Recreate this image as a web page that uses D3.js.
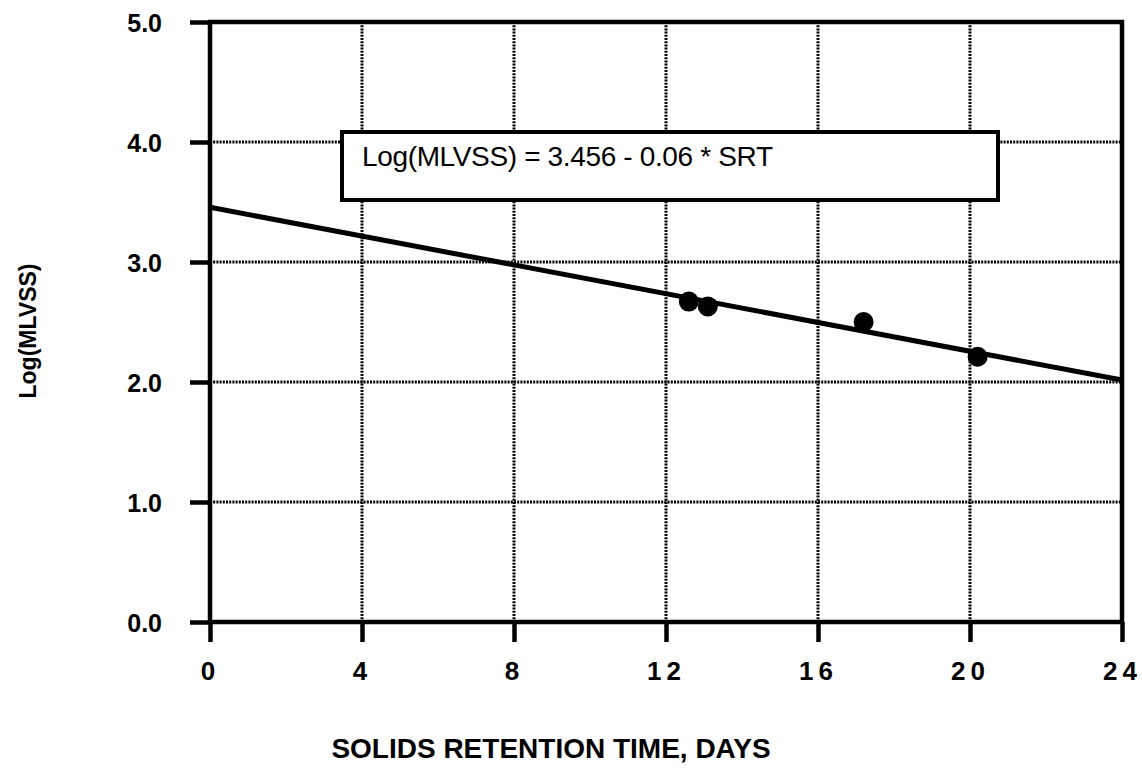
<!DOCTYPE html>
<html>
<head>
<meta charset="utf-8">
<script src="https://cdn.jsdelivr.net/npm/d3@7"></script>
<style>
    body { margin: 0; background: #fff; }
    svg { display: block; font-family: "Liberation Sans", Arial, sans-serif; }
    .tick-label { font-weight: bold; fill: #000; }
    .grid line { stroke: #000; stroke-width: 3; stroke-dasharray: 2, 1.2; }
</style>
</head>
<body>
<div id="chart"></div>
<script>
const srtDays = [12.6, 13.1, 17.2, 20.2]
const logMlvss = [2.67, 2.63, 2.50, 2.21]
const fitSrt = [0, 24]
const fitLog = [3.456, 2.016]
const xTicks = [0, 4, 8, 12, 16, 20, 24]
const yTicks = [0.0, 1.0, 2.0, 3.0, 4.0, 5.0]
const equationText = 'Log(MLVSS) = 3.456 - 0.06 * SRT'

const W = 1142, H = 768
const margin = { top: 22, right: 20, bottom: 146, left: 210 }
const width = W - margin.left - margin.right
const height = H - margin.top - margin.bottom

const svg = d3.select('#chart').append('svg')
    .attr('width', W)
    .attr('height', H)

const xScale = d3.scaleLinear().domain([0, 24]).range([margin.left, margin.left + width])
const yScale = d3.scaleLinear().domain([0, 5]).range([margin.top + height, margin.top])

//Draw grid
svg.append('g')
    .attr('class', 'grid')
    .selectAll('line')
    .data(xTicks.slice(1, -1))
    .enter().append('line')
    .attr('x1', (d) => xScale(d)).attr('x2', (d) => xScale(d))
    .attr('y1', yScale(5)).attr('y2', yScale(0))
svg.append('g')
    .attr('class', 'grid')
    .selectAll('line')
    .data(yTicks.slice(1, -1))
    .enter().append('line')
    .attr('y1', (d) => yScale(d)).attr('y2', (d) => yScale(d))
    .attr('x1', xScale(0)).attr('x2', xScale(24))
//End Draw grid

// y axis
const yAxis = svg.append('g')
    .attr('transform', `translate(${xScale(0)},0)`)
    .call(d3.axisLeft(yScale).tickValues(yTicks).tickSize(20).tickPadding(28).tickFormat(d3.format('.1f')))
yAxis.select('.domain').remove()
yAxis.selectAll('.tick line').attr('stroke', '#000').attr('stroke-width', 4.5)
yAxis.selectAll('.tick text')
    .attr('class', 'tick-label')
    .style('font-size', '25px')
    .attr('dy', '0.36em')

// x axis
const xAxis = svg.append('g')
    .attr('transform', `translate(0,${yScale(0)})`)
    .call(d3.axisBottom(xScale).tickValues(xTicks).tickSize(20).tickPadding(18))
xAxis.select('.domain').remove()
xAxis.selectAll('.tick line').attr('stroke', '#000').attr('stroke-width', 4.5)
xAxis.selectAll('.tick text')
    .attr('class', 'tick-label')
    .style('font-size', '26px')
    .style('letter-spacing', '5px')
    .attr('dy', '0.75em')

// frame
svg.append('rect')
    .attr('x', xScale(0))
    .attr('y', yScale(5))
    .attr('width', xScale(24) - xScale(0))
    .attr('height', yScale(0) - yScale(5))
    .attr('fill', 'none')
    .attr('stroke', '#000')
    .attr('stroke-width', 4.5)

// equation box
svg.append('rect')
    .attr('x', 342)
    .attr('y', 132)
    .attr('width', 656)
    .attr('height', 68)
    .attr('fill', '#fff')
    .attr('stroke', '#000')
    .attr('stroke-width', 4)
svg.append('text')
    .attr('x', 362)
    .attr('y', 166)
    .style('font-size', '28px')
    .style('letter-spacing', '-0.35px')
    .text(equationText)

// fit line
const line = d3.line()
    .x((d) => xScale(d[0]))
    .y((d) => yScale(d[1]))
svg.append('path')
    .datum(d3.zip(fitSrt, fitLog))
    .attr('d', line)
    .attr('fill', 'none')
    .attr('stroke', '#000')
    .attr('stroke-width', 5)

// points
svg.append('g')
    .selectAll('circle')
    .data(d3.zip(srtDays, logMlvss))
    .enter().append('circle')
    .attr('cx', (d) => xScale(d[0]))
    .attr('cy', (d) => yScale(d[1]))
    .attr('r', 10)
    .attr('fill', '#000')

//x Axis Title
svg.append('text')
    .attr('x', 551)
    .attr('y', 758)
    .attr('text-anchor', 'middle')
    .style('font-size', '28px')
    .style('font-weight', 'bold')
    .text('SOLIDS RETENTION TIME, DAYS')

//y Axis Title
svg.append('text')
    .attr('transform', 'translate(36,331) rotate(-90)')
    .attr('text-anchor', 'middle')
    .style('font-size', '23px')
    .style('font-weight', 'bold')
    .text('Log(MLVSS)')
</script>
</body>
</html>
